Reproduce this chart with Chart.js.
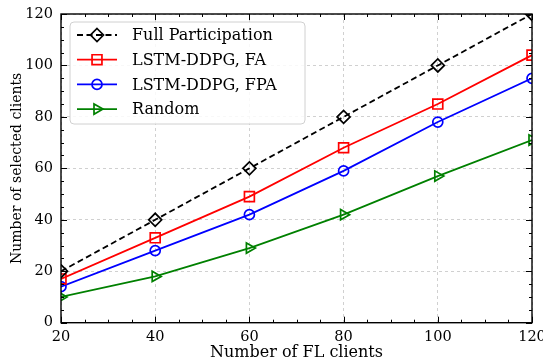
<!DOCTYPE html>
<html><head><meta charset="utf-8">
<script src="https://cdn.jsdelivr.net/npm/chart.js@4.4.0/dist/chart.umd.min.js"></script>
<style>html,body{margin:0;padding:0;background:#fff;}#wrap{width:543px;height:362px;}</style>
</head><body><div id="wrap"><canvas id="c" width="543" height="362"></canvas></div>
<script>
const clients = [20, 40, 60, 80, 100, 120];
const fullParticipation = [20, 40, 60, 80, 100, 120];
const lstmFA = [17, 33, 49, 68, 85, 104];
const lstmFPA = [14, 28, 42, 59, 78, 95];
const randomSel = [10, 18, 29, 42, 57, 71];
const xTickLabels = [20, 40, 60, 80, 100, 120];
const yTickLabels = [0, 20, 40, 60, 80, 100, 120];
const seriesNames = ['Full Participation', 'LSTM-DDPG, FA', 'LSTM-DDPG, FPA', 'Random'];

const FONT = "'DejaVu Serif', serif";
const toXY = arr => arr.map((v, i) => ({x: clients[i], y: v}));

function mk(label, data, color, style, r, dash, rot) {
  return {
    label, data: toXY(data), borderColor: color, borderWidth: 1.8,
    borderDash: dash || [], pointStyle: style, pointRadius: r, pointHoverRadius: r,
    pointBorderColor: color, pointBackgroundColor: 'rgba(0,0,0,0)', pointBorderWidth: 1.7,
    pointRotation: rot || 0, tension: 0, fill: false, clip: 0
  };
}
const datasets = [
  mk(seriesNames[0], fullParticipation, '#000000', 'rectRot', 6.5, [6, 3.5]),
  mk(seriesNames[1], lstmFA, '#ff0000', 'rect', 7),
  mk(seriesNames[2], lstmFPA, '#0000ff', 'circle', 5),
  mk(seriesNames[3], randomSel, '#008000', 'triangle', 6, null, 90)
];

function drawMarker(ctx, style, x, y, r, rot) {
  ctx.beginPath();
  if (style === 'rectRot') {
    ctx.moveTo(x, y - r); ctx.lineTo(x + r, y); ctx.lineTo(x, y + r); ctx.lineTo(x - r, y); ctx.closePath();
  } else if (style === 'rect') {
    const s = r * Math.SQRT1_2; ctx.rect(x - s, y - s, 2 * s, 2 * s);
  } else if (style === 'circle') {
    ctx.arc(x, y, r, 0, Math.PI * 2);
  } else if (style === 'triangle') {
    let rad = (rot || 0) * Math.PI / 180;
    for (let k = 0; k < 3; k++) {
      const px = x + Math.sin(rad) * r, py = y - Math.cos(rad) * r;
      if (k === 0) ctx.moveTo(px, py); else ctx.lineTo(px, py);
      rad += 2 * Math.PI / 3;
    }
    ctx.closePath();
  }
  ctx.stroke();
}

const framePlugin = {
  id: 'frame',
  afterDatasetsDraw(chart) {
    const ctx = chart.ctx, a = chart.chartArea, xs = chart.scales.x, ys = chart.scales.y;
    ctx.save();
    ctx.strokeStyle = '#000'; ctx.lineWidth = 1;
    for (let v = 20; v <= 120; v += 5) {
      const px = Math.round(xs.getPixelForValue(v)) + 0.5;
      const len = (v % 20 === 0) ? 6 : 3;
      ctx.beginPath(); ctx.moveTo(px, a.bottom); ctx.lineTo(px, a.bottom - len);
      ctx.moveTo(px, a.top); ctx.lineTo(px, a.top + len); ctx.stroke();
    }
    for (let v = 0; v <= 120; v += 5) {
      const py = Math.round(ys.getPixelForValue(v)) + 0.5;
      const len = (v % 20 === 0) ? 6 : 3;
      ctx.beginPath(); ctx.moveTo(a.left, py); ctx.lineTo(a.left + len, py);
      ctx.moveTo(a.right, py); ctx.lineTo(a.right - len, py); ctx.stroke();
    }
    ctx.lineWidth = 1.4;
    ctx.strokeRect(a.left, a.top, a.right - a.left, a.bottom - a.top);
    ctx.restore();
  },
  afterDraw(chart) {
    const ctx = chart.ctx, a = chart.chartArea;
    const bx = a.left + 9, by = a.top + 8, bw = 235, bh = 102;
    ctx.save();
    ctx.beginPath();
    if (ctx.roundRect) ctx.roundRect(bx, by, bw, bh, 4); else ctx.rect(bx, by, bw, bh);
    ctx.fillStyle = 'rgba(255,255,255,0.85)'; ctx.fill();
    ctx.strokeStyle = '#d0d0d0'; ctx.lineWidth = 1; ctx.stroke();
    ctx.font = '16px ' + FONT; ctx.textBaseline = 'middle'; ctx.textAlign = 'left';
    chart.data.datasets.forEach((ds, i) => {
      const y = by + 13 + i * 24.7;
      ctx.strokeStyle = ds.borderColor; ctx.lineWidth = 1.8;
      ctx.setLineDash(ds.borderDash || []);
      ctx.beginPath(); ctx.moveTo(bx + 7, y); ctx.lineTo(bx + 47, y); ctx.stroke();
      ctx.setLineDash([]); ctx.lineWidth = 1.7;
      drawMarker(ctx, ds.pointStyle, bx + 27, y, ds.pointRadius, ds.pointRotation);
      ctx.fillStyle = '#000';
      ctx.fillText(ds.label, bx + 62, y + 1);
    });
    ctx.restore();
  }
};

new Chart(document.getElementById('c'), {
  type: 'line',
  data: {datasets},
  options: {
    responsive: false, animation: false, devicePixelRatio: 1,
    layout: {padding: {top: 14, right: 11, left: 0, bottom: 0}},
    plugins: {legend: {display: false}, tooltip: {enabled: false}},
    scales: {
      x: {
        type: 'linear', min: 20, max: 120,
        afterBuildTicks: s => { s.ticks = xTickLabels.map(v => ({value: v})); },
        afterFit: s => { s.height = 39.3; s.paddingLeft = 0; s.paddingRight = 0; },
        grid: {color: '#c4c4c4', lineWidth: 0.8, drawTicks: false},
        border: {display: false, dash: [3, 3]},
        ticks: {color: '#000', padding: 6, maxRotation: 0, font: {family: FONT, size: 14.5}},
        title: {display: true, text: 'Number of FL clients', color: '#000', font: {family: FONT, size: 16}, padding: {top: 0, bottom: 0}}
      },
      y: {
        type: 'linear', min: 0, max: 120,
        afterBuildTicks: s => { s.ticks = yTickLabels.map(v => ({value: v})); },
        afterFit: s => { s.width = 61; s.paddingTop = 0; s.paddingBottom = 0; },
        grid: {color: '#c4c4c4', lineWidth: 0.8, drawTicks: false},
        border: {display: false, dash: [3, 3]},
        ticks: {color: '#000', padding: 8, font: {family: FONT, size: 14.5}},
        title: {display: true, text: 'Number of selected clients', color: '#000', font: {family: FONT, size: 14}, padding: {top: 9, bottom: 4}}
      }
    }
  },
  plugins: [framePlugin]
});
</script></body></html>
